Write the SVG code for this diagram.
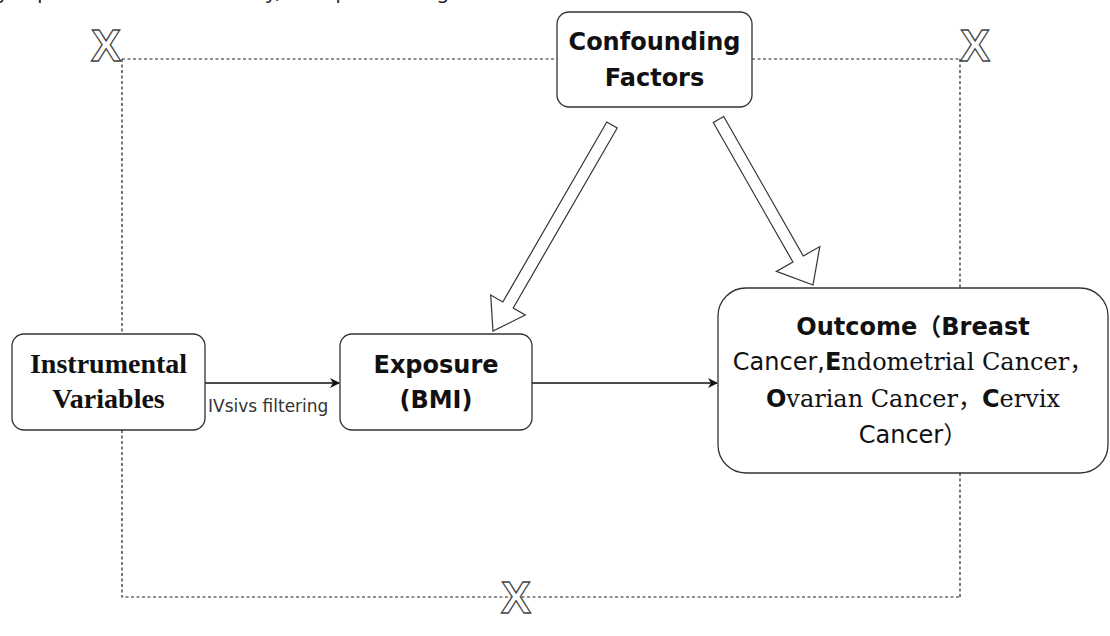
<svg xmlns="http://www.w3.org/2000/svg" width="1110" height="636" viewBox="0 0 1110 636">
<defs>
<style>
.box{fill:#fff;stroke:#333;stroke-width:1.3}
.dash{fill:none;stroke:#222;stroke-width:1.2;stroke-dasharray:3 2.5}
.conn{fill:none;stroke:#111;stroke-width:1.3}
.block{fill:#fff;stroke:#333;stroke-width:1.2;stroke-linejoin:miter}
.sb{font-family:"DejaVu Sans","Liberation Sans",sans-serif;font-weight:bold;font-size:24px;fill:#111}
.sr{font-family:"DejaVu Sans","Liberation Sans",sans-serif;font-size:24px;fill:#111}
.ser{font-family:"DejaVu Serif","Liberation Serif",serif;font-size:24px;fill:#111}
.cjk{font-family:"Noto Sans CJK SC",sans-serif;font-size:24px;fill:#111}
.tb{font-family:"Liberation Serif",serif;font-weight:bold;font-size:28px;fill:#111}
.lbl{font-family:"DejaVu Sans","Liberation Sans",sans-serif;font-size:17px;fill:#333}
.xg{font-family:"Liberation Sans",sans-serif;font-weight:bold;font-size:45px;fill:#fff;stroke:#444;stroke-width:1.3}
.top{font-family:"Noto Sans",sans-serif;font-size:20px;fill:#222}
</style>
<marker id="arr" viewBox="0 0 10 10" refX="9" refY="5" markerWidth="10" markerHeight="10" markerUnits="userSpaceOnUse" orient="auto">
<path d="M0,0 L10,5 L0,10 L3,5 z" fill="#111"/>
</marker>
</defs>
<rect width="1110" height="636" fill="#fff"/>
<text class="top" x="-2" y="-2">y impact the outcome directly, as depicted in Figure</text>

<g id="connectors">
<path class="dash" d="M122,59 H557 M752,59 H960 M122,59 V334 M122,430 V597 H960 M960,59 V288 M960,473 V597"/>
<line class="conn" x1="205" y1="383" x2="339" y2="383" marker-end="url(#arr)"/>
<text class="lbl" x="208" y="412">IVsivs filtering</text>
<line class="conn" x1="532" y1="383" x2="717" y2="383" marker-end="url(#arr)"/>
<polygon class="block" points="617.2,128 513.2,308 525.3,315 493,331 490.7,295 502.8,302 606.8,122"/>
<polygon class="block" points="713.3,122.5 792.9,262 776.4,271.4 813,285 819.8,246.6 803.3,256 723.7,116.5"/>
<text class="xg" x="91" y="61">X</text>
<text class="xg" x="960" y="61">X</text>
<text class="xg" x="501" y="613">X</text>
</g>

<g id="confounding">
<rect class="box" x="557" y="12" width="195" height="95" rx="12"/>
<text class="sb" x="654.5" y="50" text-anchor="middle">Confounding</text>
<text class="sb" x="654.5" y="86" text-anchor="middle">Factors</text>
</g>

<g id="instrumental">
<rect class="box" x="12" y="334" width="193" height="96" rx="12"/>
<text class="tb" x="108.5" y="373" text-anchor="middle">Instrumental</text>
<text class="tb" x="108.5" y="408" text-anchor="middle">Variables</text>
</g>

<g id="exposure">
<rect class="box" x="340" y="334" width="192" height="96" rx="12"/>
<text class="sb" x="436" y="373" text-anchor="middle">Exposure</text>
<text class="sb" x="436" y="408" text-anchor="middle">(BMI)</text>
</g>

<g id="outcome">
<rect class="box" x="718" y="288" width="390" height="185" rx="28"/>
<text x="913" y="335" text-anchor="middle"><tspan class="sb">Outcome</tspan><tspan class="cjk" font-weight="bold">（</tspan><tspan class="sb">Breast</tspan></text>
<text x="913" y="370" text-anchor="middle"><tspan class="sr">Cancer,</tspan><tspan class="sb">E</tspan><tspan class="ser">ndometrial Cancer</tspan><tspan class="cjk">，</tspan></text>
<text x="913" y="407" text-anchor="middle"><tspan class="sb">O</tspan><tspan class="ser">varian Cancer</tspan><tspan class="cjk">，</tspan><tspan class="sb">C</tspan><tspan class="ser">ervix</tspan></text>
<text x="913" y="443" text-anchor="middle"><tspan class="sr">Cancer</tspan><tspan class="cjk">）</tspan></text>
</g>
</svg>
